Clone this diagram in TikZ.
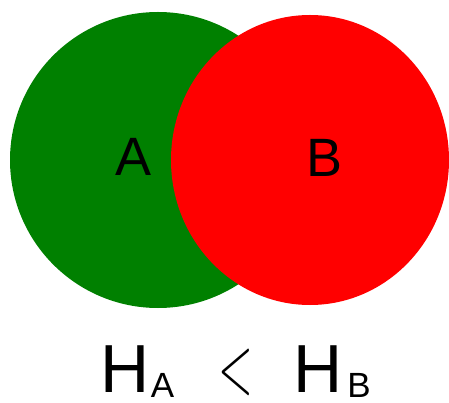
\RequirePackage{fix-cm}
\documentclass[tikz,border=0pt]{standalone}
\usepackage{fontspec}
\setmainfont{Liberation Sans}

\begin{document}
\begin{tikzpicture}[
    x=1pt, y=-1pt,
    blob/.style={draw=none},
    letter/.style={inner sep=0pt, outer sep=0pt, font=\fontsize{54}{54}\selectfont},
    bigH/.style={inner sep=0pt, outer sep=0pt, anchor=base, font=\fontsize{68}{68}\selectfont},
    subscr/.style={inner sep=0pt, outer sep=0pt, anchor=base, font=\fontsize{35}{35}\selectfont}
]

    \def\rA{148pt}
    \def\rBx{139pt}
    \def\rBy{145pt}

    \useasboundingbox (0,0) rectangle (449,403);

    \coordinate (cA) at (158,160);
    \coordinate (cB) at (310,160);

    \fill[blob, green!50!black] (cA) circle [radius=\rA];
    \fill[blob, red] (cB) ellipse [x radius=\rBx, y radius=\rBy];

    \node[letter] (labA) at (134,156.5) {A};
    \node[letter] (labB) at (325,157.5) {B};

    \node[bigH] (hA) at (125,392) {H};
    \node[subscr] (sA) at (162.5,397) {A};
    \node[inner sep=0pt, outer sep=0pt] (lt) at (236,372.5)
        {\scalebox{0.54}[1]{\fontsize{84.5}{84.5}\selectfont$<$}};
    \node[bigH] (hB) at (318.5,392) {H};
    \node[subscr] (sB) at (359,397) {B};

\end{tikzpicture}
\end{document}
